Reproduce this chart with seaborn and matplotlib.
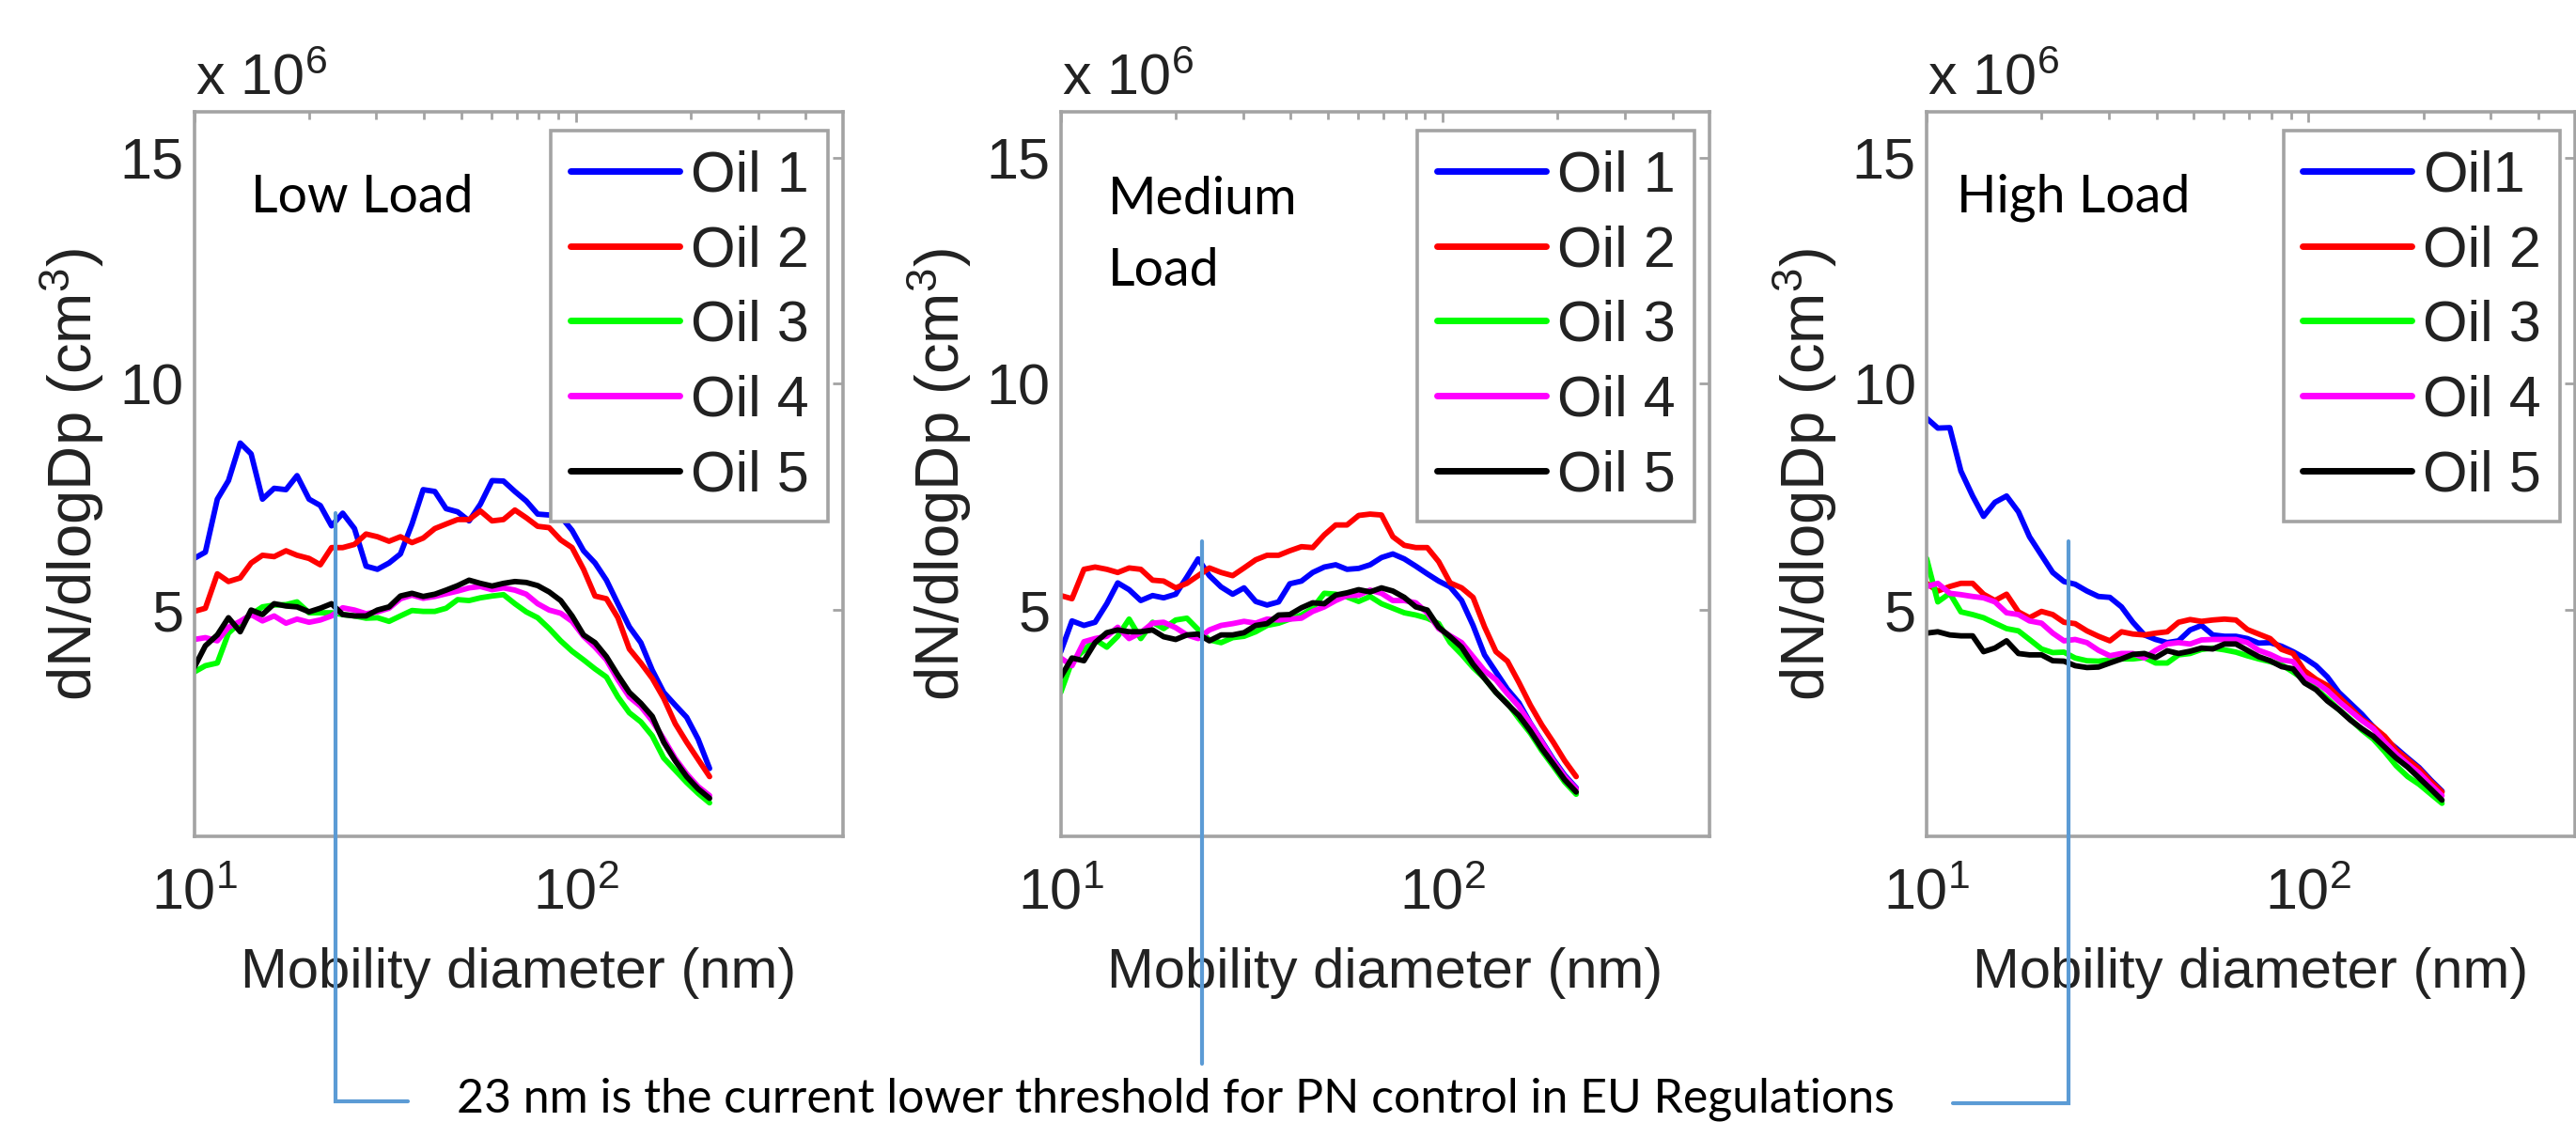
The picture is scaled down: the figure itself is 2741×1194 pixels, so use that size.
import numpy as np
import pandas as pd
import matplotlib
matplotlib.use("Agg")
import matplotlib.pyplot as plt
import seaborn as sns
from matplotlib.ticker import FixedLocator, LogFormatterSciNotation, NullFormatter

# ---------------- data (dN/dlogDp in units of 1e6 cm^-3) ----------------
DIAMETER_NM = [10.0, 10.7, 11.5, 12.3, 13.2, 14.1, 15.1, 16.2, 17.4, 18.6, 20.0, 21.4,
               22.9, 24.5, 26.3, 28.2, 30.2, 32.4, 34.7, 37.2, 39.8, 42.7, 45.7, 49.0,
               52.5, 56.2, 60.3, 64.6, 69.2, 74.1, 79.4, 85.1, 91.2, 97.7, 104.7, 112.2,
               120.2, 128.8, 138.0, 147.9, 158.5, 169.8, 182.0, 195.0, 208.9, 223.9]

LOW_OIL1 = [6.14, 6.28, 7.45, 7.86, 8.69, 8.45, 7.45, 7.69, 7.66, 7.97,
            7.45, 7.31, 6.86, 7.14, 6.8, 5.97, 5.9, 6.04, 6.24, 6.9,
            7.66, 7.62, 7.24, 7.17, 6.97, 7.34, 7.86, 7.85, 7.62, 7.41,
            7.12, 7.1, 7.07, 6.76, 6.31, 6.04, 5.66, 5.14, 4.63, 4.28,
            3.67, 3.18, 2.9, 2.63, 2.15, 1.5]
LOW_OIL2 = [4.97, 5.04, 5.8, 5.63, 5.71, 6.04, 6.21, 6.18, 6.31, 6.21,
            6.14, 6.0, 6.38, 6.38, 6.45, 6.68, 6.62, 6.52, 6.62, 6.49,
            6.59, 6.8, 6.9, 7.0, 7.0, 7.19, 6.97, 7.0, 7.21, 7.04,
            6.85, 6.82, 6.55, 6.38, 5.9, 5.31, 5.25, 4.83, 4.14, 3.83,
            3.49, 3.05, 2.49, 2.08, 1.7, 1.32]
LOW_OIL3 = [3.63, 3.77, 3.83, 4.49, 4.73, 4.9, 5.07, 5.11, 5.12, 5.18,
            4.94, 4.94, 4.94, 4.9, 4.87, 4.82, 4.83, 4.75, 4.87, 4.99,
            4.97, 4.97, 5.04, 5.23, 5.21, 5.27, 5.31, 5.34, 5.14, 4.96,
            4.83, 4.59, 4.32, 4.09, 3.9, 3.7, 3.52, 3.08, 2.73, 2.53,
            2.22, 1.73, 1.46, 1.19, 0.95, 0.74]
LOW_OIL4 = [4.35, 4.39, 4.32, 4.62, 4.75, 4.9, 4.76, 4.87, 4.71, 4.8,
            4.73, 4.78, 4.87, 5.05, 5.0, 4.92, 4.96, 5.04, 5.25, 5.33,
            5.26, 5.3, 5.36, 5.42, 5.49, 5.52, 5.45, 5.49, 5.44, 5.35,
            5.14, 5.0, 4.93, 4.75, 4.42, 4.18, 3.9, 3.46, 3.08, 2.87,
            2.55, 2.15, 1.72, 1.38, 1.1, 0.9]
LOW_OIL5 = [3.73, 4.21, 4.45, 4.83, 4.52, 5.0, 4.9, 5.14, 5.09, 5.07,
            4.96, 5.04, 5.14, 4.9, 4.87, 4.87, 5.0, 5.07, 5.31, 5.37,
            5.3, 5.35, 5.44, 5.54, 5.66, 5.59, 5.53, 5.59, 5.63, 5.61,
            5.54, 5.4, 5.21, 4.87, 4.45, 4.28, 3.97, 3.56, 3.18, 2.94,
            2.65, 2.08, 1.67, 1.32, 1.05, 0.84]

MED_OIL1 = [4.08, 4.76, 4.66, 4.73, 5.14, 5.6, 5.45, 5.21, 5.32, 5.27,
            5.35, 5.73, 6.13, 5.76, 5.51, 5.35, 5.49, 5.19, 5.11, 5.18,
            5.58, 5.64, 5.83, 5.95, 6.0, 5.9, 5.92, 6.0, 6.16, 6.24,
            6.13, 5.97, 5.8, 5.64, 5.51, 5.21, 4.66, 4.01, 3.63, 3.25,
            2.95, 2.5, 2.1, 1.7, 1.35, 1.07]
MED_OIL2 = [5.32, 5.25, 5.9, 5.95, 5.9, 5.83, 5.93, 5.9, 5.66, 5.64,
            5.49, 5.59, 5.76, 5.93, 5.83, 5.76, 5.93, 6.11, 6.21, 6.21,
            6.31, 6.4, 6.38, 6.66, 6.88, 6.88, 7.09, 7.12, 7.1, 6.62,
            6.43, 6.38, 6.38, 6.07, 5.6, 5.49, 5.28, 4.63, 4.08, 3.87,
            3.4, 2.9, 2.46, 2.08, 1.67, 1.32]
MED_OIL3 = [3.18, 3.87, 4.11, 4.35, 4.18, 4.42, 4.8, 4.37, 4.73, 4.59,
            4.78, 4.82, 4.57, 4.34, 4.28, 4.39, 4.42, 4.52, 4.66, 4.71,
            4.8, 4.89, 5.04, 5.37, 5.35, 5.29, 5.19, 5.3, 5.14, 5.04,
            4.94, 4.89, 4.82, 4.7, 4.28, 4.02, 3.73, 3.49, 3.18, 2.94,
            2.6, 2.28, 1.89, 1.55, 1.2, 0.93]
MED_OIL4 = [3.94, 3.77, 4.3, 4.37, 4.42, 4.62, 4.37, 4.5, 4.71, 4.73,
            4.61, 4.45, 4.37, 4.56, 4.66, 4.7, 4.75, 4.71, 4.8, 4.78,
            4.8, 4.82, 4.97, 5.07, 5.21, 5.32, 5.33, 5.44, 5.37, 5.21,
            5.21, 5.16, 4.94, 4.59, 4.43, 4.28, 3.97, 3.66, 3.46, 3.15,
            2.87, 2.49, 2.08, 1.67, 1.32, 1.05]
MED_OIL5 = [3.52, 3.94, 3.88, 4.28, 4.5, 4.56, 4.52, 4.52, 4.56, 4.41,
            4.35, 4.45, 4.47, 4.32, 4.45, 4.45, 4.5, 4.66, 4.7, 4.89,
            4.9, 5.05, 5.16, 5.14, 5.33, 5.38, 5.45, 5.4, 5.49, 5.42,
            5.28, 5.07, 5.0, 4.62, 4.41, 4.18, 3.8, 3.49, 3.18, 2.92,
            2.67, 2.33, 1.94, 1.6, 1.25, 0.98]

HIGH_OIL1 = [9.24, 9.02, 9.03, 8.07, 7.52, 7.07, 7.38, 7.52, 7.17, 6.62,
             6.21, 5.83, 5.63, 5.57, 5.42, 5.3, 5.28, 5.07, 4.73, 4.45,
             4.35, 4.28, 4.32, 4.56, 4.66, 4.45, 4.42, 4.42, 4.37, 4.27,
             4.28, 4.2, 4.08, 3.94, 3.77, 3.52, 3.18, 2.94, 2.7, 2.42,
             2.15, 1.95, 1.73, 1.52, 1.25, 1.0]
HIGH_OIL2 = [5.59, 5.42, 5.52, 5.59, 5.59, 5.35, 5.21, 5.35, 4.96, 4.83,
             4.97, 4.9, 4.73, 4.7, 4.54, 4.42, 4.32, 4.52, 4.47, 4.45,
             4.49, 4.52, 4.73, 4.79, 4.75, 4.78, 4.8, 4.78, 4.57, 4.47,
             4.37, 4.13, 4.04, 3.66, 3.47, 3.33, 3.08, 2.84, 2.59, 2.42,
             2.21, 1.91, 1.7, 1.49, 1.22, 0.98]
HIGH_OIL3 = [6.14, 5.18, 5.37, 4.96, 4.9, 4.83, 4.71, 4.59, 4.54, 4.35,
             4.14, 4.06, 4.07, 3.94, 3.88, 3.87, 3.9, 3.92, 3.92, 3.95,
             3.83, 3.83, 4.01, 4.04, 4.13, 4.16, 4.12, 4.07, 3.99, 3.92,
             3.86, 3.79, 3.63, 3.46, 3.26, 3.04, 2.8, 2.59, 2.35, 2.15,
             1.87, 1.56, 1.32, 1.15, 0.94, 0.73]
HIGH_OIL4 = [5.52, 5.59, 5.37, 5.34, 5.3, 5.27, 5.18, 4.94, 4.9, 4.76,
             4.71, 4.49, 4.32, 4.35, 4.28, 4.11, 3.99, 4.04, 4.04, 3.94,
             4.11, 4.25, 4.28, 4.25, 4.34, 4.35, 4.35, 4.35, 4.28, 4.11,
             4.02, 3.9, 3.86, 3.52, 3.4, 3.22, 2.98, 2.77, 2.56, 2.38,
             2.08, 1.82, 1.6, 1.4, 1.14, 0.9]
HIGH_OIL5 = [4.49, 4.52, 4.45, 4.43, 4.43, 4.08, 4.16, 4.32, 4.04, 4.01,
             4.01, 3.88, 3.87, 3.77, 3.73, 3.74, 3.83, 3.92, 4.02, 4.04,
             3.95, 4.1, 4.04, 4.09, 4.16, 4.14, 4.25, 4.25, 4.11, 3.97,
             3.88, 3.75, 3.7, 3.39, 3.24, 2.99, 2.8, 2.57, 2.38, 2.21,
             1.97, 1.73, 1.53, 1.29, 1.05, 0.8]

PANEL_TITLES = ["Low Load", "Medium\nLoad", "High Load"]
LEGEND_LABELS = [["Oil 1", "Oil 2", "Oil 3", "Oil 4", "Oil 5"],
                 ["Oil 1", "Oil 2", "Oil 3", "Oil 4", "Oil 5"],
                 ["Oil1", "Oil 2", "Oil 3", "Oil 4", "Oil 5"]]
PANEL_SERIES = [[LOW_OIL1, LOW_OIL2, LOW_OIL3, LOW_OIL4, LOW_OIL5],
                [MED_OIL1, MED_OIL2, MED_OIL3, MED_OIL4, MED_OIL5],
                [HIGH_OIL1, HIGH_OIL2, HIGH_OIL3, HIGH_OIL4, HIGH_OIL5]]
THRESHOLD_NM = 23.5
NOTE = "23 nm is the current lower threshold for PN control in EU Regulations"

OIL_COLORS = ["#0000FF", "#FF0000", "#00FF00", "#FF00FF", "#000000"]
CONNECTOR = "#5B9BD5"

# ---------------- style ----------------
sns.set_theme(style="white")
plt.rcParams["font.family"] = ["Liberation Sans", "DejaVu Sans"]
plt.rcParams["mathtext.fontset"] = "custom"
plt.rcParams["mathtext.rm"] = "Liberation Sans"
plt.rcParams["mathtext.it"] = "Liberation Sans:italic"
plt.rcParams["mathtext.bf"] = "Liberation Sans:bold"

TXT = "#222222"
FRAME = "#a3a3a3"

fig = plt.figure(figsize=(27.41, 11.94), dpi=100)
fig.patch.set_facecolor("white")
lefts = [0.07537, 0.41179, 0.74790]
# (x, y of the baseline of the last line) in axes fraction
title_pos = [(0.0874, 0.862), (0.0725, 0.7604), (0.046, 0.862)]

axes = []
for i in range(3):
    ax = fig.add_axes([lefts[i], 0.2546, 0.2518, 0.6454])
    axes.append(ax)
    labels = LEGEND_LABELS[i]
    rows = []
    for lab, vals in zip(labels, PANEL_SERIES[i]):
        for d, v in zip(DIAMETER_NM, vals):
            rows.append((d, v, lab))
    df = pd.DataFrame(rows, columns=["diameter", "dndlogdp", "oil"])
    ax.set_xscale("log")
    sns.lineplot(data=df, x="diameter", y="dndlogdp", hue="oil", hue_order=labels,
                 palette=OIL_COLORS, estimator=None, sort=False, lw=4.2, ax=ax,
                 legend=True)
    ax.set_xlim(10, 500)
    ax.set_ylim(0, 16)
    ax.set_yticks([5, 10, 15])
    ax.xaxis.set_major_locator(FixedLocator([10, 100]))
    ax.xaxis.set_minor_locator(FixedLocator([20, 30, 40, 50, 60, 70, 80, 90, 200, 300, 400]))
    ax.xaxis.set_major_formatter(LogFormatterSciNotation())
    ax.xaxis.set_minor_formatter(NullFormatter())
    for s in ax.spines.values():
        s.set_color(FRAME)
        s.set_linewidth(2.6)
    ax.tick_params(which="both", direction="in", top=True, right=True, color=FRAME,
                   width=2.0, labelsize=44, labelcolor=TXT)
    ax.tick_params(which="major", length=8)
    ax.tick_params(which="minor", length=6)
    ax.tick_params(axis="x", which="both", pad=24)
    ax.tick_params(axis="y", which="both", pad=8)
    ax.grid(False)
    ax.set_xlabel("Mobility diameter (nm)", fontsize=43, color=TXT, labelpad=20)
    ax.set_ylabel("dN/dlogDp (cm$^{3}$)", fontsize=47, color=TXT, labelpad=10)
    ax.text(0.002, 1.024, "x 10$^{6}$", transform=ax.transAxes, fontsize=44,
            color=TXT, ha="left", va="baseline")
    tx, ty = title_pos[i]
    ax.text(tx, ty, PANEL_TITLES[i], transform=ax.transAxes, fontsize=40,
            family=["Lato", "DejaVu Sans"], color="black", ha="left", va="baseline",
            linespacing=1.6)
    handles, hl = ax.get_legend_handles_labels()
    leg = ax.legend(handles, hl, loc="upper right", bbox_to_anchor=(0.977, 0.974),
                    borderaxespad=0, frameon=True, fancybox=False, framealpha=1,
                    edgecolor=FRAME, fontsize=44, handlelength=1.9,
                    handletextpad=0.2, labelspacing=0.37, borderpad=0.33)
    leg.get_frame().set_linewidth(2.6)
    for t in leg.get_texts():
        t.set_color(TXT)
    for h in leg.legend_handles:
        h.set_linewidth(5.0)

# connector lines marking the 23 nm threshold
kw = dict(color=CONNECTOR, lw=3.0, clip_on=False, zorder=10, solid_joinstyle="miter")
axes[0].plot([THRESHOLD_NM, THRESHOLD_NM, 36.2], [7.14, -5.86, -5.86], **kw)
axes[1].plot([THRESHOLD_NM, THRESHOLD_NM], [6.52, -5.03], **kw)
axes[2].plot([11.7, THRESHOLD_NM, THRESHOLD_NM], [-5.9, -5.9, 6.52], **kw)

fig.text(0.4564, 0.009, NOTE, fontsize=36, family=["Lato", "DejaVu Sans"],
         color="black", ha="center", va="baseline")

fig.savefig("out.png", dpi=100, facecolor="white")
